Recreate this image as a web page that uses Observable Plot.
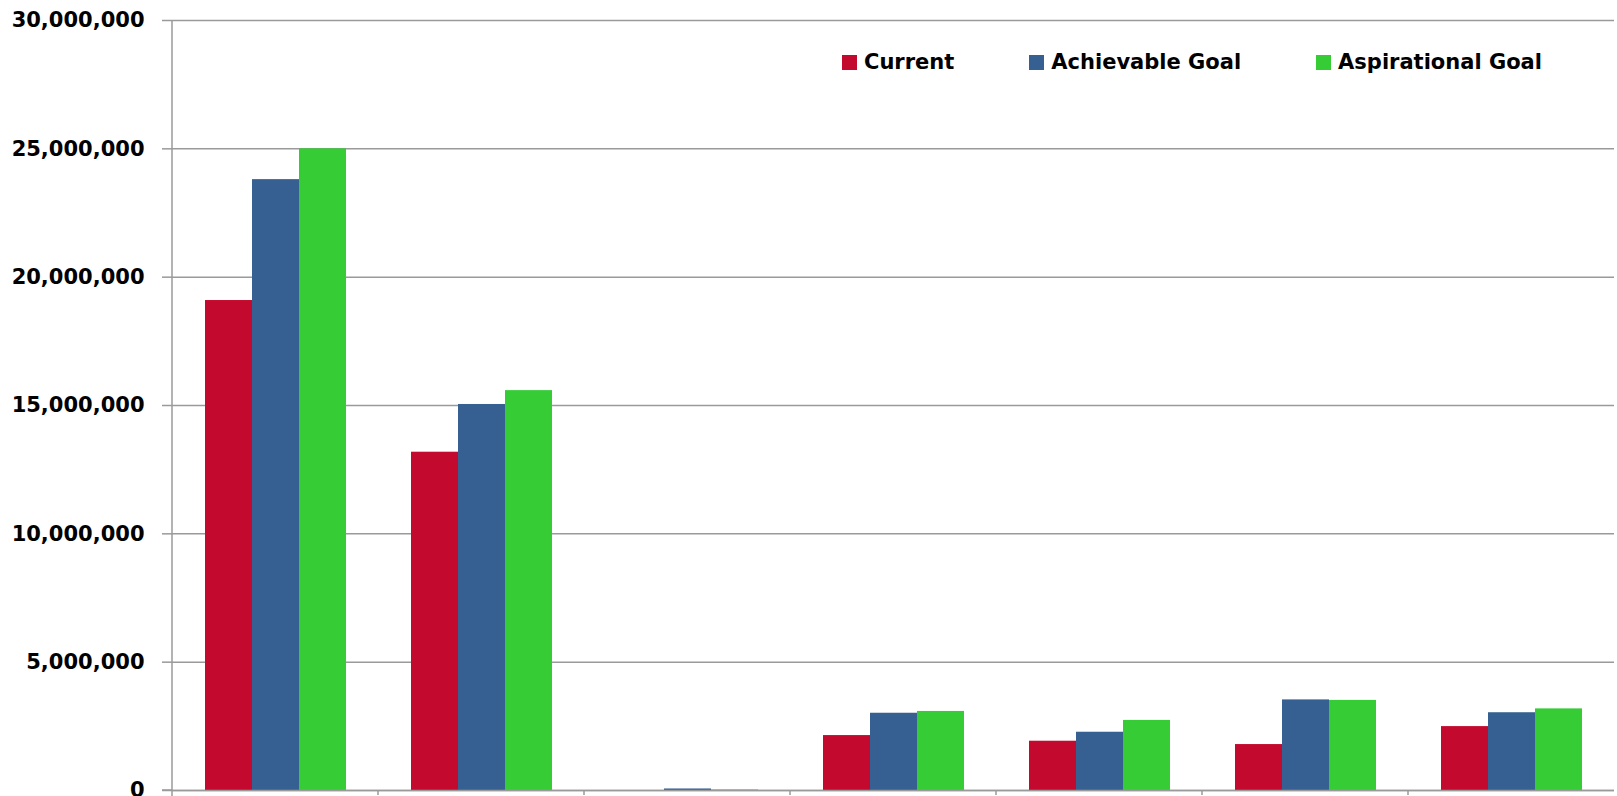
<!DOCTYPE html>
<html>
<head>
<meta charset="utf-8">
<script src="https://cdn.jsdelivr.net/npm/d3@7"></script>
<script src="https://cdn.jsdelivr.net/npm/@observablehq/plot@0.6"></script>
<style>
  html, body { margin: 0; padding: 0; background: #fff; }
  #wrap { position: relative; width: 1617px; height: 796px; overflow: hidden; }
  #legend { position: absolute; left: 842px; top: 50px; display: flex; gap: 75px;
            font-family: "DejaVu Sans", sans-serif; font-weight: bold; font-size: 21px; color: #000; }
  .item { display: flex; align-items: center; gap: 7px; }
  .sw { width: 15px; height: 15px; display: inline-block; }
</style>
</head>
<body>
<div id="wrap"><div id="legend"></div></div>
<script>
const categories = ["Group 1", "Group 2", "Group 3", "Group 4", "Group 5", "Group 6", "Group 7"];
const series = ["Current", "Achievable Goal", "Aspirational Goal"];
const colors = ["#C3092D", "#366092", "#35CC35"];
const current      = [19090000, 13180000,     0, 2140000, 1920000, 1790000, 2490000];
const achievable   = [23800000, 15040000, 60000, 3010000, 2270000, 3530000, 3030000];
const aspirational = [25000000, 15580000, 20000, 3080000, 2730000, 3510000, 3180000];
const yTicks = [0, 5000000, 10000000, 15000000, 20000000, 25000000, 30000000];

const values = [current, achievable, aspirational];
const data = [];
categories.forEach((c, i) => series.forEach((s, j) => data.push({category: c, series: s, value: values[j][i]})));

const chart = Plot.plot({
  width: 1617,
  height: 796,
  marginLeft: 169,
  marginRight: 0,
  marginTop: 20,
  marginBottom: 6,
  style: {fontFamily: "DejaVu Sans, sans-serif", overflow: "visible"},
  fx: {domain: categories, padding: 0, axis: null},
  x: {domain: series, paddingInner: 0, paddingOuter: 0.69, axis: null},
  y: {domain: [0, 30000000], axis: null},
  color: {domain: series, range: colors},
  marks: [
    Plot.gridY(yTicks, {stroke: "#9a9a9a", strokeOpacity: 1, strokeWidth: 1.5}),
    Plot.barY(data, {fx: "category", x: "series", y: "value", fill: "series"}),
    Plot.ruleY([0], {stroke: "#9a9a9a", strokeWidth: 1.5}),
    Plot.axisY(yTicks, {label: null, tickSize: 10, tickPadding: 18, stroke: "#9a9a9a", strokeWidth: 1.5,
      tickFormat: d3.format(","), fontWeight: "bold", fontSize: 21, fill: "#000"})
  ]
});

document.getElementById("wrap").appendChild(chart);

// y axis line and category boundary ticks, placed with Plot's own scales
const fx = chart.scale("fx");
const ys = chart.scale("y");
const svg = d3.select(chart);
const g = svg.append("g").attr("stroke", "#9a9a9a").attr("stroke-width", 1.5);
const left = fx.apply(categories[0]);
g.append("line").attr("x1", left).attr("x2", left)
  .attr("y1", ys.apply(30000000)).attr("y2", ys.apply(0) + 6);
categories.forEach((c, i) => {
  if (i === 0) return;
  const x = fx.apply(c);
  g.append("line").attr("x1", x).attr("x2", x).attr("y1", ys.apply(0)).attr("y2", ys.apply(0) + 5);
});
g.append("line").attr("x1", left - 10).attr("x2", left).attr("y1", ys.apply(0)).attr("y2", ys.apply(0));

// legend
const legend = d3.select("#legend");
series.forEach((s, i) => {
  const item = legend.append("div").attr("class", "item");
  item.append("span").attr("class", "sw").style("background", colors[i]);
  item.append("span").text(s);
});
</script>
</body>
</html>
